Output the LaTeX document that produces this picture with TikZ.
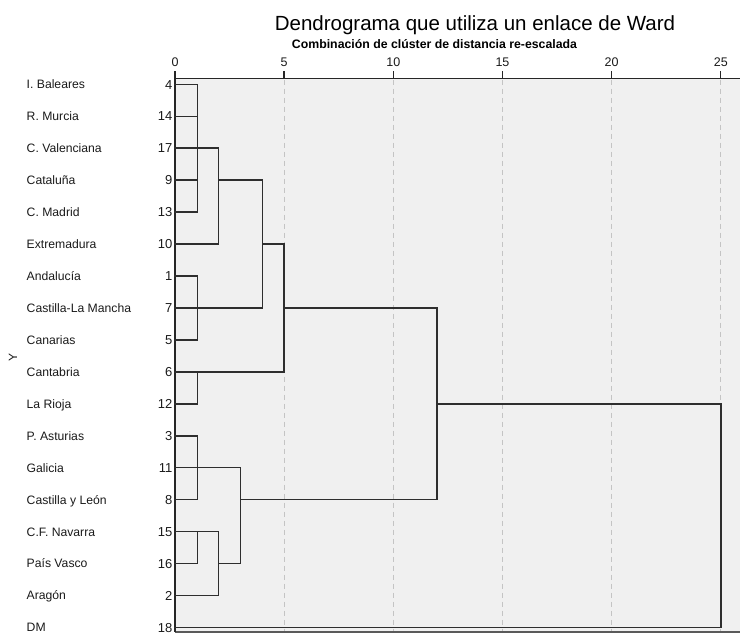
\documentclass[tikz,border=0pt]{standalone}
\usepackage{fontspec}
\setmainfont{Liberation Sans}
\definecolor{plotbg}{HTML}{F0F0F0}
\definecolor{gridc}{HTML}{C4C4C4}
\definecolor{treec}{HTML}{2E2E2E}
\definecolor{axisc}{HTML}{262626}
\definecolor{botc}{HTML}{5A5A5A}
\definecolor{txtc}{HTML}{1A1A1A}
\begin{document}
\begin{tikzpicture}[x=1pt,y=-1pt,
  tree/.style={draw=treec,line width=1.5pt,line cap=rect},
  axisline/.style={draw=axisc,line width=1.4pt},
  gridline/.style={draw=gridc,line width=0.9pt,dash pattern=on 5pt off 4pt},
  namelab/.style={anchor=base west,inner sep=0pt,text=txtc,font=\fontsize{12.2}{14}\selectfont},
  numlab/.style={anchor=base east,inner sep=0pt,text=txtc,font=\fontsize{13}{15}\selectfont},
  ticklab/.style={anchor=base,inner sep=0pt,text=txtc,font=\fontsize{12.5}{14}\selectfont},
  titlelab/.style={anchor=base,inner sep=0pt,text=black,font=\fontsize{20.5}{24}\selectfont},
  sublab/.style={anchor=base,inner sep=0pt,text=black,font=\bfseries\fontsize{12.3}{14}\selectfont}]
\useasboundingbox (0,0) rectangle (740,635);
% plot area
\fill[plotbg] (175,78.5) rectangle (740,632);
\foreach \u in {5,10,15,20,25}
  \draw[gridline] ({175+21.83*\u},79.5) -- ({175+21.83*\u},631);
\draw[draw=botc,line width=1.1pt] (175,632) -- (740,632);
% titles
\node[titlelab] (title) at (475,30.7) {Dendrograma que utiliza un enlace de Ward};
\node[sublab] (subtitle) at (434.5,48.3) {Combinación de clúster de distancia re-escalada};
% axis ticks and labels
\foreach \u in {0,5,10,15,20,25}{
  \coordinate (t\u) at ({175+21.83*\u},78.5);
  \draw[axisline] (t\u) -- ++(0,-7.5);
  \node[ticklab] (tl\u) at ({175+21.83*\u},66) {\u};
}
\draw[axisline] (175,78.5) -- (740,78.5);
\draw[axisline] (175,78.5) -- (175,632);
% y label
\node[rotate=90,inner sep=0pt,text=txtc,font=\fontsize{12}{14}\selectfont] (ylab) at (13,357) {Y};
% rows
\foreach \i/\nm/\num in {0/I. Baleares/4,1/R. Murcia/14,2/C. Valenciana/17,3/Cataluña/9,
  4/C. Madrid/13,5/Extremadura/10,6/Andalucía/1,7/Castilla-La Mancha/7,8/Canarias/5,
  9/Cantabria/6,10/La Rioja/12,11/P. Asturias/3,12/Galicia/11,13/Castilla y León/8,
  14/C.F. Navarra/15,15/País Vasco/16,16/Aragón/2,17/DM/18}{
  \coordinate (p\i) at (175,{84.3+31.95*\i});
  \node[namelab] (l\i) at (26.5,{84.3+31.95*\i+4.4}) {\nm};
  \node[numlab] (r\i) at (172.5,{84.3+31.95*\i+4.7}) {\num};
}
% merge levels
\coordinate (xa1) at (197.7,0);
\coordinate (xa2) at (218.5,0);
\coordinate (xa3) at (240.7,0);
\coordinate (xa4) at (262.7,0);
\coordinate (xa5) at (284.2,0);
\coordinate (xa12) at (436.8,0);
\coordinate (xa25) at (720.8,0);
% cluster rows 0-4
\foreach \i in {0,...,4} \draw[tree] (p\i) -- (p\i -| xa1);
\draw[tree] (p0 -| xa1) -- (p4 -| xa1);
\draw[tree] (p2 -| xa1) -- (p2 -| xa2);
\draw[tree] (p5) -- (p5 -| xa2);
\draw[tree] (p2 -| xa2) -- (p5 -| xa2);
\draw[tree] (p3 -| xa2) -- (p3 -| xa4);
% cluster rows 6-8
\foreach \i in {6,7,8} \draw[tree] (p\i) -- (p\i -| xa1);
\draw[tree] (p6 -| xa1) -- (p8 -| xa1);
\draw[tree] (p7 -| xa1) -- (p7 -| xa4);
\draw[tree] (p3 -| xa4) -- (p7 -| xa4);
\draw[tree] (p5 -| xa4) -- (p5 -| xa5);
% cluster rows 9-10
\foreach \i in {9,10} \draw[tree] (p\i) -- (p\i -| xa1);
\draw[tree] (p9 -| xa1) -- (p10 -| xa1);
\draw[tree] (p9 -| xa1) -- (p9 -| xa5);
\draw[tree] (p5 -| xa5) -- (p9 -| xa5);
\draw[tree] (p7 -| xa5) -- (p7 -| xa12);
% cluster rows 11-13
\foreach \i in {11,12,13} \draw[tree] (p\i) -- (p\i -| xa1);
\draw[tree] (p11 -| xa1) -- (p13 -| xa1);
\draw[tree] (p12 -| xa1) -- (p12 -| xa3);
% cluster rows 14-16
\foreach \i in {14,15} \draw[tree] (p\i) -- (p\i -| xa1);
\draw[tree] (p14 -| xa1) -- (p15 -| xa1);
\draw[tree] (p14 -| xa1) -- (p14 -| xa2);
\draw[tree] (p16) -- (p16 -| xa2);
\draw[tree] (p14 -| xa2) -- (p16 -| xa2);
\draw[tree] (p15 -| xa2) -- (p15 -| xa3);
\draw[tree] (p12 -| xa3) -- (p15 -| xa3);
\draw[tree] (p13 -| xa3) -- (p13 -| xa12);
% top-level joins
\draw[tree] (p7 -| xa12) -- (p13 -| xa12);
\draw[tree] (p10 -| xa12) -- (p10 -| xa25);
\draw[tree] (p17) -- (p17 -| xa25);
\draw[tree] (p10 -| xa25) -- (p17 -| xa25);
\end{tikzpicture}
\end{document}
